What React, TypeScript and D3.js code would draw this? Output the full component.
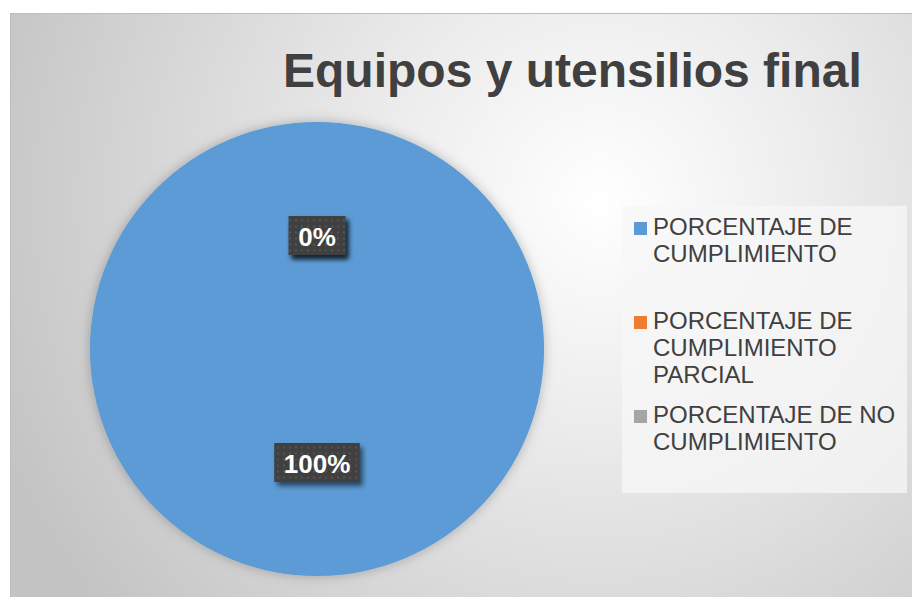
import React, { useRef, useEffect } from "react";
import * as d3 from "d3";

// chart values
const categories = [
  "PORCENTAJE DE CUMPLIMIENTO",
  "PORCENTAJE DE CUMPLIMIENTO PARCIAL",
  "PORCENTAJE DE NO CUMPLIMIENTO",
];
const values = [1, 0, 0];
const legendLines = [
  ["PORCENTAJE DE", "CUMPLIMIENTO"],
  ["PORCENTAJE DE", "CUMPLIMIENTO", "PARCIAL"],
  ["PORCENTAJE DE NO", "CUMPLIMIENTO"],
];
const colors = ["#5B9BD5", "#ED7D31", "#A5A5A5"];
const title = "Equipos y utensilios final";

const App = () => {
  const svgRef = useRef<SVGSVGElement>(null);

  useEffect(() => {
    const svg = d3.select(svgRef.current);
    svg.selectAll("*").remove();
    const width = 912;
    const height = 597;
    const font = "'Liberation Sans', Arial, sans-serif";

    const defs = svg.append("defs");
    const bg = defs
      .append("radialGradient")
      .attr("id", "bg")
      .attr("gradientUnits", "userSpaceOnUse")
      .attr("cx", 600)
      .attr("cy", 200)
      .attr("r", 640);
    bg.append("stop").attr("offset", 0).attr("stop-color", "#ffffff");
    bg.append("stop").attr("offset", 0.35).attr("stop-color", "#ececec");
    bg.append("stop").attr("offset", 1).attr("stop-color", "#c4c4c4");

    const pieShadow = defs.append("filter").attr("id", "pieShadow")
      .attr("x", "-20%").attr("y", "-20%").attr("width", "140%").attr("height", "140%");
    pieShadow.append("feDropShadow")
      .attr("dx", 0).attr("dy", 0).attr("stdDeviation", 6)
      .attr("flood-color", "#000").attr("flood-opacity", 0.25);

    const boxShadow = defs.append("filter").attr("id", "boxShadow")
      .attr("x", "-30%").attr("y", "-30%").attr("width", "160%").attr("height", "160%");
    boxShadow.append("feDropShadow")
      .attr("dx", 3).attr("dy", 4).attr("stdDeviation", 2.5)
      .attr("flood-color", "#000").attr("flood-opacity", 0.55);

    const dots = defs.append("pattern").attr("id", "dots")
      .attr("patternUnits", "userSpaceOnUse").attr("width", 6).attr("height", 6);
    dots.append("rect").attr("width", 6).attr("height", 6).attr("fill", "#3f3f3f");
    dots.append("rect").attr("x", 2).attr("y", 2).attr("width", 2).attr("height", 2).attr("fill", "#555555");

    // chart area
    svg.append("rect")
      .attr("x", 10.5).attr("y", 13.5)
      .attr("width", width).attr("height", height)
      .attr("fill", "url(#bg)")
      .attr("stroke", "#bdbdbd");

    svg.append("text")
      .attr("x", 283).attr("y", 87)
      .attr("font-family", font).attr("font-weight", "bold")
      .attr("font-size", 48).attr("fill", "#404040")
      .text(title);

    // pie
    const cx = 317;
    const cy = 349;
    const r = 227;
    const pie = d3.pie<number>().sort(null).value((d) => d);
    const arcs = pie(values);
    const arc = d3.arc<d3.PieArcDatum<number>>().innerRadius(0).outerRadius(r);
    const g = svg.append("g").attr("transform", `translate(${cx},${cy})`);
    g.append("g")
      .attr("filter", "url(#pieShadow)")
      .selectAll("path")
      .data(arcs)
      .enter()
      .append("path")
      .attr("d", (d) => arc(d) as string)
      .attr("fill", (d, i) => colors[i]);

    const total = d3.sum(values);
    const labels = g.selectAll(".lbl").data(arcs).enter().append("g")
      .attr("class", "lbl")
      .attr("transform", (d) => `translate(${arc.centroid(d)})`);
    const rects = labels.append("rect").attr("fill", "url(#dots)").attr("filter", "url(#boxShadow)");
    const texts = labels.append("text")
      .attr("text-anchor", "middle")
      .attr("dy", 10)
      .attr("font-family", font).attr("font-weight", "bold")
      .attr("font-size", 26).attr("fill", "#ffffff")
      .text((d) => d3.format(".0%")(d.value / total));
    texts.each(function (d, i) {
      const w = (this as SVGTextElement).getComputedTextLength();
      const bw = w + 19;
      const bh = 39;
      d3.select(rects.nodes()[i]).attr("x", -bw / 2).attr("y", -bh / 2).attr("width", bw).attr("height", bh);
    });

    // legend
    svg.append("rect")
      .attr("x", 622).attr("y", 206)
      .attr("width", 285).attr("height", 287)
      .attr("fill", "#f7f7f7").attr("opacity", 0.75);
    const legend = svg.selectAll(".leg").data(categories).enter().append("g")
      .attr("class", "leg")
      .attr("transform", (d, i) => `translate(634,${235 + i * 94})`);
    legend.append("rect")
      .attr("x", 0).attr("y", -13)
      .attr("width", 13).attr("height", 13)
      .attr("fill", (d, i) => colors[i]);
    legend.append("text")
      .attr("font-family", font).attr("font-size", 24).attr("fill", "#404040")
      .selectAll("tspan")
      .data((d, i) => legendLines[i])
      .enter()
      .append("tspan")
      .attr("x", 19)
      .attr("y", (d, j) => j * 27)
      .text((d) => d);
  }, []);

  return (
    <svg
      ref={svgRef}
      width={912}
      height={597}
      style={{ position: "absolute", left: 0, top: 0, display: "block" }}
    ></svg>
  );
};

export default App;
